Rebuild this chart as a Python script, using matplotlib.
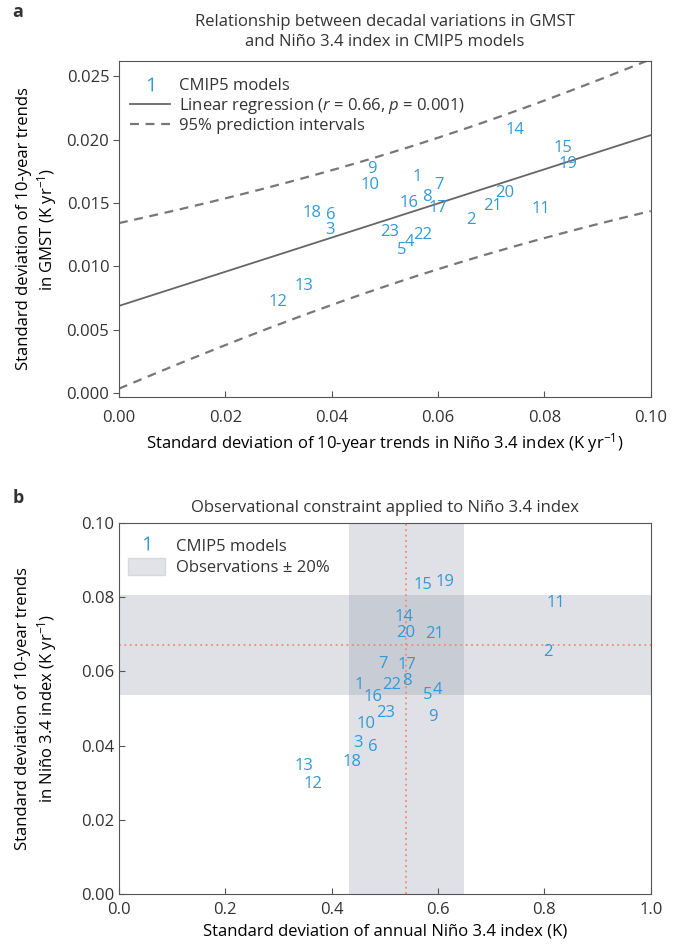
import numpy as np
import matplotlib
matplotlib.use("Agg")
import matplotlib.pyplot as plt
from matplotlib.lines import Line2D
from matplotlib.patches import Patch

plt.rcParams['font.family'] = ['Open Sans', 'DejaVu Sans']
plt.rcParams['mathtext.fontset'] = 'custom'
plt.rcParams['mathtext.rm'] = 'Open Sans'
plt.rcParams['mathtext.it'] = 'Open Sans:italic'
plt.rcParams['axes.edgecolor'] = '#555555'
plt.rcParams['text.color'] = '#333333'
plt.rcParams['xtick.color'] = '#555555'
plt.rcParams['ytick.color'] = '#555555'
plt.rcParams['xtick.labelcolor'] = '#333333'
plt.rcParams['ytick.labelcolor'] = '#333333'

# ---------------------------------------
# Data
# ---------------------------------------

models = [str(i) for i in range(1, 24)]

# panel a: std of 10-yr trends in Nino 3.4 (x) and in GMST (y)
nino_trend_a = [0.0560, 0.0662, 0.0397, 0.0547, 0.0532, 0.0398, 0.0602, 0.0580,
                0.0476, 0.0472, 0.0793, 0.0299, 0.0348, 0.0744, 0.0835, 0.0545,
                0.0600, 0.0363, 0.0844, 0.0726, 0.0703, 0.0571, 0.0509]
gmst_trend = [0.01703, 0.01370, 0.01285, 0.01192, 0.01130, 0.01409, 0.01640,
              0.01550, 0.01772, 0.01641, 0.01455, 0.00720, 0.00844, 0.02074,
              0.01935, 0.01502, 0.01463, 0.01424, 0.01811, 0.01579, 0.01478,
              0.01246, 0.01269]

# panel b: std of annual Nino 3.4 (x) and std of 10-yr Nino 3.4 trends (y)
nino_std = [0.451, 0.806, 0.449, 0.598, 0.581, 0.477, 0.496, 0.541, 0.590,
            0.464, 0.821, 0.365, 0.348, 0.536, 0.571, 0.477, 0.541, 0.438,
            0.613, 0.539, 0.594, 0.513, 0.502]
nino_trend_b = [0.0563, 0.0652, 0.0407, 0.0550, 0.0537, 0.0396, 0.0620, 0.0574,
                0.0477, 0.0458, 0.0784, 0.0296, 0.0345, 0.0747, 0.0834, 0.0531,
                0.0617, 0.0356, 0.0841, 0.0703, 0.0701, 0.0563, 0.0488]

obs_nino_std = 0.54
obs_nino_trend = 0.0672
obs_frac = 0.20

t_975 = 2.080  # t value, 21 degrees of freedom

blue = '#3399d6'
fs = 12

# ---------------------------------------
# Regression and 95% prediction intervals
# ---------------------------------------

x = np.array(nino_trend_a)
y = np.array(gmst_trend)
n = len(x)
slope, intercept = np.polyfit(x, y, 1)
resid = y - (slope * x + intercept)
s = np.sqrt(np.sum(resid ** 2) / (n - 2))
sxx = np.sum((x - x.mean()) ** 2)

xf = np.linspace(0, 0.1, 200)
yf = slope * xf + intercept
half = t_975 * s * np.sqrt(1 + 1 / n + (xf - x.mean()) ** 2 / sxx)

# ---------------------------------------
# Figure
# ---------------------------------------

fig = plt.figure(figsize=(6.8, 9.46), dpi=100)
ax1 = fig.add_axes([0.175, 0.5803, 0.782, 0.3552])
ax2 = fig.add_axes([0.175, 0.0550, 0.782, 0.3921])

# Panel a
ax1.plot(xf, yf, color='#666666', lw=1.3)
ax1.plot(xf, yf + half, color='#777777', lw=1.6, dashes=(4, 3))
ax1.plot(xf, yf - half, color='#777777', lw=1.6, dashes=(4, 3))

for m, xi, yi in zip(models, nino_trend_a, gmst_trend):
    ax1.text(xi, yi, m, color=blue, fontsize=fs, ha='center', va='center')

ax1.set_xlim(0, 0.1)
ax1.set_ylim(-0.0003, 0.0262)
ax1.set_xticks([0, 0.02, 0.04, 0.06, 0.08, 0.10])
ax1.set_xticklabels(['0.00', '0.02', '0.04', '0.06', '0.08', '0.10'])
ax1.set_yticks([0, 0.005, 0.01, 0.015, 0.02, 0.025])
ax1.set_yticklabels(['0.000', '0.005', '0.010', '0.015', '0.020', '0.025'])
ax1.tick_params(axis='x', direction='in', length=4, labelsize=fs, pad=9)
ax1.tick_params(axis='y', direction='out', length=4, labelsize=fs, pad=3)
ax1.set_xlabel('Standard deviation of 10-year trends in Niño 3.4 index (K yr$^{\\mathregular{-1}}$)',
               fontsize=fs, labelpad=4)
ax1.set_ylabel('Standard deviation of 10-year trends\nin GMST (K yr$^{\\mathregular{-1}}$)',
               fontsize=fs, labelpad=5)
ax1.set_title('Relationship between decadal variations in GMST\nand Niño 3.4 index in CMIP5 models',
              fontsize=fs, pad=11, linespacing=1.35)

handles_a = [
    Line2D([], [], ls='none', marker='$\\mathregular{1}$', color=blue,
           markersize=10, markeredgewidth=0),
    Line2D([], [], color='#666666', lw=1.3),
    Line2D([], [], color='#777777', lw=1.6, dashes=(4, 3)),
]
labels_a = ['CMIP5 models',
            'Linear regression ($r$ = 0.66, $p$ = 0.001)',
            '95% prediction intervals']
ax1.legend(handles_a, labels_a, loc='upper left', bbox_to_anchor=(-0.01, 1.0),
           frameon=False, fontsize=fs, handlelength=2.4, handletextpad=0.5,
           labelspacing=0.12, borderaxespad=0.6)

# Panel b
lo_x, hi_x = obs_nino_std * (1 - obs_frac), obs_nino_std * (1 + obs_frac)
lo_y, hi_y = obs_nino_trend * (1 - obs_frac), obs_nino_trend * (1 + obs_frac)
ax2.axvspan(lo_x, hi_x, color='#8f96a6', alpha=0.28, lw=0)
ax2.axhspan(lo_y, hi_y, color='#8f96a6', alpha=0.28, lw=0)
ax2.axvline(obs_nino_std, color='#f08a78', lw=1.3, ls=(0, (1, 2)))
ax2.axhline(obs_nino_trend, color='#f08a78', lw=1.3, ls=(0, (1, 2)))

for m, xi, yi in zip(models, nino_std, nino_trend_b):
    ax2.text(xi, yi, m, color=blue, fontsize=fs, ha='center', va='center')

ax2.set_xlim(0, 1.0)
ax2.set_ylim(0, 0.1)
ax2.set_xticks([0, 0.2, 0.4, 0.6, 0.8, 1.0])
ax2.set_xticklabels(['0.0', '0.2', '0.4', '0.6', '0.8', '1.0'])
ax2.set_yticks([0, 0.02, 0.04, 0.06, 0.08, 0.10])
ax2.set_yticklabels(['0.00', '0.02', '0.04', '0.06', '0.08', '0.10'])
ax2.tick_params(axis='both', direction='in', length=4, labelsize=fs)
ax2.tick_params(axis='x', pad=6)
ax2.set_xlabel('Standard deviation of annual Niño 3.4 index (K)', fontsize=fs, labelpad=4)
ax2.set_ylabel('Standard deviation of 10-year trends\nin Niño 3.4 index (K yr$^{\\mathregular{-1}}$)',
               fontsize=fs, labelpad=16)
ax2.set_title('Observational constraint applied to Niño 3.4 index', fontsize=fs, pad=8)

handles_b = [
    Line2D([], [], ls='none', marker='$\\mathregular{1}$', color=blue,
           markersize=10, markeredgewidth=0),
    Patch(facecolor='#e1e3e7', edgecolor='#d5d8dd'),
]
labels_b = ['CMIP5 models', 'Observations ± 20%']
ax2.legend(handles_b, labels_b, loc='upper left', bbox_to_anchor=(-0.008, 1.0),
           frameon=False, fontsize=fs, handlelength=2.2, handleheight=1.2,
           handletextpad=0.65, labelspacing=0.2, borderaxespad=0.4)

# panel letters
fig.text(0.018, 0.987, 'a', fontsize=13, fontweight='bold', va='center')
fig.text(0.018, 0.474, 'b', fontsize=13, fontweight='bold', va='center')

fig.savefig('out.png', dpi=100)
